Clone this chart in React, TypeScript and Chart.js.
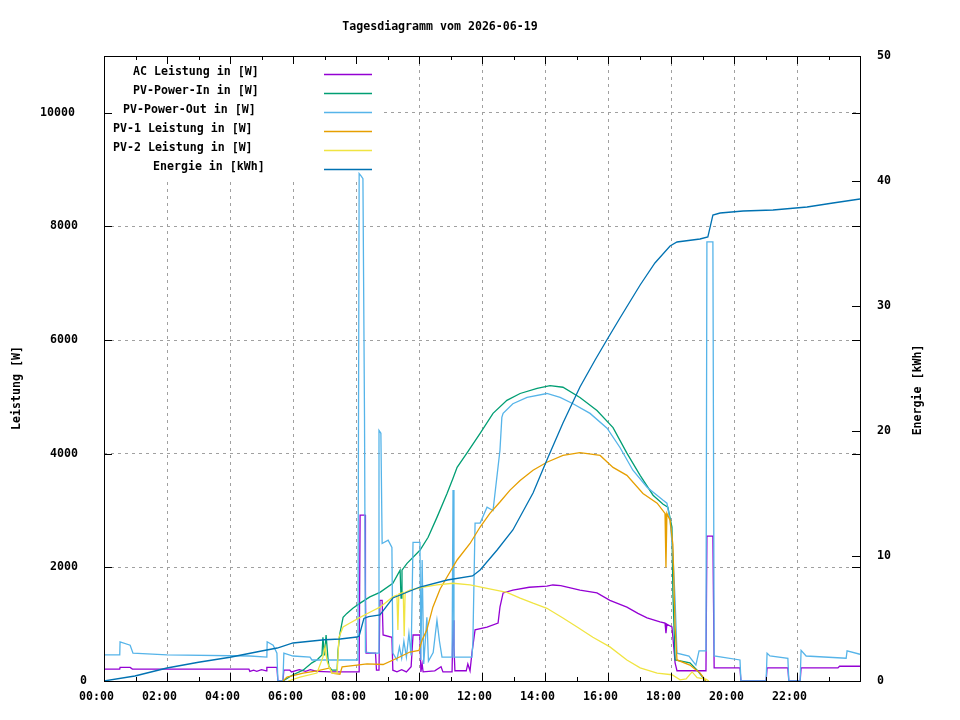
import { useEffect, useRef } from "react";
import { Chart, registerables } from "chart.js";

Chart.register(...registerables);

// axis ticks (hours of day, watts, kWh)
const hourTicks = [0, 2, 4, 6, 8, 10, 12, 14, 16, 18, 20, 22];
const powerTicks = [0, 2000, 4000, 6000, 8000, 10000];
const energyTicks = [0, 10, 20, 30, 40, 50];

// [hour, W]
const acLeistung = [
  [0, 210], [0.5, 210], [0.51, 240], [0.83, 240], [0.9, 210], [4.6, 210], [4.63, 170], [4.75, 190], [4.85, 170],
  [5.0, 200], [5.15, 180], [5.17, 240], [5.49, 240], [5.52, 0], [5.68, 0], [5.71, 190], [5.9, 190], [5.95, 160],
  [6.2, 200], [6.4, 170], [6.55, 200], [6.76, 170], [7.17, 160], [8.1, 160], [8.13, 2920], [8.29, 2920], [8.3, 1600],
  [8.32, 490], [8.62, 490], [8.65, 190], [8.73, 190], [8.76, 1420], [8.83, 1420], [8.86, 810], [9.14, 770], [9.17, 190],
  [9.3, 160], [9.45, 200], [9.6, 160], [9.75, 250], [9.81, 810], [10.03, 810], [10.06, 160], [10.1, 300], [10.13, 160],
  [10.5, 180], [10.7, 250], [10.76, 160], [11.05, 160], [11.08, 1070], [11.11, 600], [11.14, 180], [11.5, 180],
  [11.55, 300], [11.62, 180], [11.68, 490], [11.78, 900], [12.16, 950], [12.51, 1020], [12.57, 1300], [12.67, 1550],
  [12.98, 1600], [13.5, 1650], [14.06, 1670], [14.25, 1690], [14.5, 1680], [15.11, 1600], [15.65, 1550], [16.06, 1420],
  [16.6, 1300], [16.95, 1190], [17.24, 1110], [17.65, 1040], [17.81, 1020], [17.84, 840], [17.87, 1000], [18.03, 950],
  [18.06, 770], [18.13, 320], [18.19, 180], [19.11, 180], [19.14, 2550], [19.33, 2550], [19.35, 1370], [19.37, 230],
  [20.19, 230], [20.22, 0], [21.02, 0], [21.05, 230], [21.71, 230], [21.74, 0], [22.1, 0], [22.13, 230], [23.3, 230],
  [23.35, 260], [24, 260],
];

const pvPowerIn = [
  [5.68, 0], [6.0, 110], [6.32, 190], [6.6, 320], [6.76, 370], [6.92, 460], [6.95, 770], [7.0, 450], [7.05, 810],
  [7.11, 400], [7.14, 250], [7.24, 190], [7.4, 190], [7.43, 540], [7.49, 840], [7.59, 1120], [7.71, 1190], [7.9, 1280],
  [8.13, 1370], [8.44, 1480], [8.76, 1560], [9.17, 1720], [9.4, 1950], [9.43, 1460], [9.46, 1950], [9.62, 2070],
  [10.03, 2300], [10.29, 2530], [10.57, 2880], [10.89, 3300], [11.08, 3570], [11.21, 3760], [11.52, 4010], [11.94, 4360],
  [12.35, 4710], [12.79, 4940], [13.21, 5060], [13.75, 5150], [14.16, 5200], [14.57, 5170], [15.11, 4990], [15.65, 4760],
  [16.16, 4460], [16.6, 4010], [17.02, 3620], [17.43, 3270], [17.75, 3110], [17.9, 3060], [18.03, 2710], [18.06, 1550],
  [18.13, 370], [18.6, 320], [18.83, 190], [19.05, 35], [19.1, 0],
];

const pvPowerOut = [
  [0, 460], [0.5, 460], [0.51, 690], [0.83, 630], [0.92, 490], [2.0, 460], [4.63, 440], [5.17, 420], [5.18, 690],
  [5.37, 630], [5.49, 490], [5.52, 0], [5.68, 0], [5.71, 490], [6.0, 440], [6.54, 420], [6.6, 370], [8.06, 370],
  [8.1, 8930], [8.16, 8890], [8.22, 8840], [8.27, 4670], [8.3, 510], [8.54, 490], [8.7, 490], [8.73, 4410], [8.79, 4360],
  [8.83, 2420], [9.02, 2480], [9.14, 2350], [9.17, 490], [9.3, 370], [9.38, 600], [9.45, 400], [9.52, 700], [9.6, 420],
  [9.68, 840], [9.75, 450], [9.81, 2440], [10.03, 2440], [10.06, 370], [10.1, 2130], [10.15, 300], [10.25, 1120],
  [10.3, 350], [10.45, 500], [10.57, 1070], [10.65, 700], [10.73, 420], [11.05, 420], [11.08, 3360], [11.11, 420],
  [11.68, 420], [11.71, 670], [11.78, 2780], [11.94, 2780], [12.16, 3060], [12.35, 3000], [12.57, 4060], [12.63, 4640],
  [12.67, 4710], [12.98, 4880], [13.43, 4990], [14.06, 5060], [14.48, 4990], [14.89, 4880], [15.43, 4710], [15.97, 4450],
  [16.38, 4110], [16.79, 3710], [17.24, 3410], [17.75, 3180], [17.87, 3130], [17.97, 2830], [18.06, 2250], [18.13, 1420],
  [18.19, 490], [18.57, 440], [18.79, 280], [18.89, 530], [19.11, 530], [19.14, 7730], [19.33, 7730], [19.35, 4060],
  [19.37, 440], [20.19, 370], [20.22, 0], [21.02, 0], [21.05, 490], [21.14, 440], [21.71, 400], [21.74, 0], [22.1, 0],
  [22.13, 540], [22.29, 440], [23.56, 400], [23.59, 530], [24, 470],
];

const pv1Leistung = [
  [5.68, 0], [5.81, 70], [6.32, 140], [6.76, 180], [7.17, 230], [7.24, 140], [7.49, 120], [7.56, 250], [8.03, 280],
  [8.35, 300], [8.86, 290], [9.3, 400], [9.71, 510], [10.0, 540], [10.1, 720], [10.25, 900], [10.44, 1300], [10.67, 1620],
  [10.89, 1830], [11.21, 2130], [11.62, 2420], [11.94, 2710], [12.25, 2950], [12.57, 3150], [12.89, 3360], [13.21, 3530],
  [13.62, 3710], [14.06, 3850], [14.57, 3970], [15.11, 4020], [15.75, 3970], [16.16, 3760], [16.6, 3620], [17.11, 3300],
  [17.56, 3130], [17.81, 2950], [17.84, 2000], [17.87, 2950], [17.97, 2830], [18.06, 2400], [18.13, 950], [18.19, 370],
  [18.6, 280], [18.92, 140], [19.11, 0],
];

const pv2Leistung = [
  [5.85, 0], [6.22, 70], [6.76, 140], [6.95, 420], [7.02, 600], [7.08, 350], [7.14, 250], [7.24, 140], [7.4, 140],
  [7.46, 770], [7.59, 950], [7.81, 1020], [8.13, 1120], [8.44, 1210], [8.76, 1300], [9.17, 1480], [9.3, 1510], [9.33, 900],
  [9.36, 1530], [9.5, 1560], [9.53, 790], [9.56, 1560], [9.71, 1600], [10.1, 1650], [10.57, 1690], [11.08, 1720],
  [11.62, 1690], [12.16, 1630], [12.79, 1560], [13.21, 1460], [13.62, 1370], [14.06, 1280], [14.57, 1110], [15.02, 950],
  [15.52, 770], [16.06, 600], [16.6, 370], [17.02, 230], [17.56, 140], [18.03, 110], [18.29, 20], [18.48, 35],
  [18.67, 160], [18.83, 60], [19.11, 35], [19.2, 0],
];

// [hour, kWh]
const energie = [
  [0, 0], [0.98, 0.4], [2.0, 1.04], [3.0, 1.5], [4.0, 1.9], [5.0, 2.4], [5.5, 2.64], [6.0, 3.04], [7.0, 3.3], [7.5, 3.36],
  [8.03, 3.52], [8.1, 3.6], [8.25, 5.0], [8.4, 5.15], [8.76, 5.28], [9.17, 6.64], [10.03, 7.52], [10.9, 8.08], [11.7, 8.4],
  [11.94, 8.88], [12.48, 10.48], [12.98, 12.08], [13.62, 15.04], [14.06, 17.68], [14.57, 20.64], [15.11, 23.52],
  [15.59, 25.68], [16.0, 27.44], [16.38, 29.04], [17.02, 31.68], [17.49, 33.44], [17.97, 34.8], [18.19, 35.12],
  [18.92, 35.36], [19.17, 35.52], [19.33, 37.28], [19.56, 37.44], [20.29, 37.6], [21.24, 37.68], [22.32, 37.92],
  [23.14, 38.24], [24, 38.56],
];

const FONT = 'bold 11.6px "DejaVu Sans Mono"';
const LINE_WIDTH = 1.3;

const hourLabel = (h: number) => String(h).padStart(2, "0") + ":00";

// gnuplot look: key box, inward ticks, border, labels
const gnuplotFrame = {
  id: "gnuplotFrame",
  beforeDatasetsDraw(chart: any) {
    const { ctx, chartArea } = chart;
    const { left, top } = chartArea;
    ctx.save();
    ctx.fillStyle = "#ffffff";
    ctx.fillRect(left + 1, top + 1, 276, 123);
    ctx.font = FONT;
    ctx.textBaseline = "middle";
    chart.data.datasets.forEach((ds: any, i: number) => {
      const y = top + 16 + 19 * i;
      ctx.fillStyle = "#000";
      ctx.fillText(ds.label, left + 209 - 10 * ds.label.length, y);
      ctx.strokeStyle = ds.borderColor;
      ctx.lineWidth = LINE_WIDTH;
      ctx.beginPath();
      ctx.moveTo(left + 220, y + 2.5);
      ctx.lineTo(left + 268, y + 2.5);
      ctx.stroke();
    });
    ctx.restore();
  },
  afterDatasetsDraw(chart: any) {
    const { ctx, chartArea, scales } = chart;
    const { left, right, top, bottom } = chartArea;
    ctx.save();
    ctx.strokeStyle = "#000";
    ctx.lineWidth = 1;
    ctx.strokeRect(left + 0.5, top + 0.5, right - left, bottom - top);

    ctx.beginPath();
    for (let h = 1; h < 24; h++) {
      const x = Math.round(scales.x.getPixelForValue(h)) + 0.5;
      const len = h % 2 === 0 ? 8 : 4;
      ctx.moveTo(x, bottom);
      ctx.lineTo(x, bottom - len);
      ctx.moveTo(x, top);
      ctx.lineTo(x, top + len);
    }
    powerTicks.forEach((v) => {
      const y = Math.round(scales.y.getPixelForValue(v)) + 0.5;
      ctx.moveTo(left, y);
      ctx.lineTo(left + 8, y);
      ctx.moveTo(right, y);
      ctx.lineTo(right - 8, y);
    });
    energyTicks.forEach((v) => {
      const y = Math.round(scales.y2.getPixelForValue(v)) + 0.5;
      ctx.moveTo(right, y);
      ctx.lineTo(right - 8, y);
    });
    ctx.stroke();

    ctx.font = FONT;
    ctx.fillStyle = "#000";
    ctx.textBaseline = "middle";
    ctx.textAlign = "left";
    powerTicks.forEach((v) => {
      const s = String(v);
      ctx.fillText(s, left - 14 - 10 * s.length, scales.y.getPixelForValue(v));
    });
    energyTicks.forEach((v) => {
      ctx.fillText(String(v), right + 17, scales.y2.getPixelForValue(v));
    });
    hourTicks.forEach((h) => {
      const s = hourLabel(h);
      ctx.fillText(s, scales.x.getPixelForValue(h) - 5 * s.length, bottom + 16);
    });

    ctx.textAlign = "center";
    ctx.fillText("Tagesdiagramm vom 2026-06-19", 440, 27);
    ctx.save();
    ctx.translate(17, 388);
    ctx.rotate(-Math.PI / 2);
    ctx.fillText("Leistung [W]", 0, 0);
    ctx.restore();
    ctx.save();
    ctx.translate(918, 390);
    ctx.rotate(-Math.PI / 2);
    ctx.fillText("Energie [kWh]", 0, 0);
    ctx.restore();
    ctx.restore();
  },
};

const line = (label: string, data: number[][], color: string, order: number, yAxisID = "y") => ({
  label,
  data,
  borderColor: color,
  backgroundColor: color,
  borderWidth: LINE_WIDTH,
  pointRadius: 0,
  tension: 0,
  fill: false,
  order,
  yAxisID,
});

export default function App() {
  const chartRef = useRef<HTMLCanvasElement | null>(null);

  useEffect(() => {
    if (!chartRef.current) return;
    const chart = new Chart(chartRef.current, {
      type: "line",
      data: {
        datasets: [
          line("AC Leistung in [W]", acLeistung, "#9400D3", 6),
          line("PV-Power-In in [W]", pvPowerIn, "#009E73", 5),
          line("PV-Power-Out in [W]", pvPowerOut, "#56B4E9", 4),
          line("PV-1 Leistung in [W]", pv1Leistung, "#E69F00", 3),
          line("PV-2 Leistung in [W]", pv2Leistung, "#F0E442", 2),
          line("Energie in [kWh]", energie, "#0072B2", 1, "y2"),
        ] as any,
      },
      options: {
        responsive: false,
        animation: false,
        devicePixelRatio: 1,
        layout: { padding: { top: 56, left: 0, right: 0, bottom: 0 } },
        plugins: { legend: { display: false }, tooltip: { enabled: false } },
        scales: {
          x: {
            type: "linear",
            min: 0,
            max: 24,
            afterBuildTicks: (scale: any) => {
              scale.ticks = hourTicks.map((value) => ({ value }));
            },
            afterFit: (scale: any) => {
              scale.height = 39;
            },
            ticks: { display: false },
            grid: { color: "#a0a0a0", lineWidth: 1, drawTicks: false },
            border: { display: false, dash: [3, 4] },
          },
          y: {
            position: "left",
            min: 0,
            max: 11000,
            afterBuildTicks: (scale: any) => {
              scale.ticks = powerTicks.map((value) => ({ value }));
            },
            afterFit: (scale: any) => {
              scale.width = 104;
            },
            ticks: { display: false },
            grid: { color: "#a0a0a0", lineWidth: 1, drawTicks: false },
            border: { display: false, dash: [3, 4] },
          },
          y2: {
            position: "right",
            min: 0,
            max: 50,
            afterBuildTicks: (scale: any) => {
              scale.ticks = energyTicks.map((value) => ({ value }));
            },
            afterFit: (scale: any) => {
              scale.width = 100;
            },
            ticks: { display: false },
            grid: { display: false },
            border: { display: false },
          },
        },
      },
      plugins: [gnuplotFrame],
    });
    return () => chart.destroy();
  }, []);

  return (
    <div style={{ position: "absolute", left: 0, top: 0, width: 960, height: 720, background: "#fff" }}>
      <canvas ref={chartRef} width={960} height={720} style={{ display: "block" }} />
    </div>
  );
}
